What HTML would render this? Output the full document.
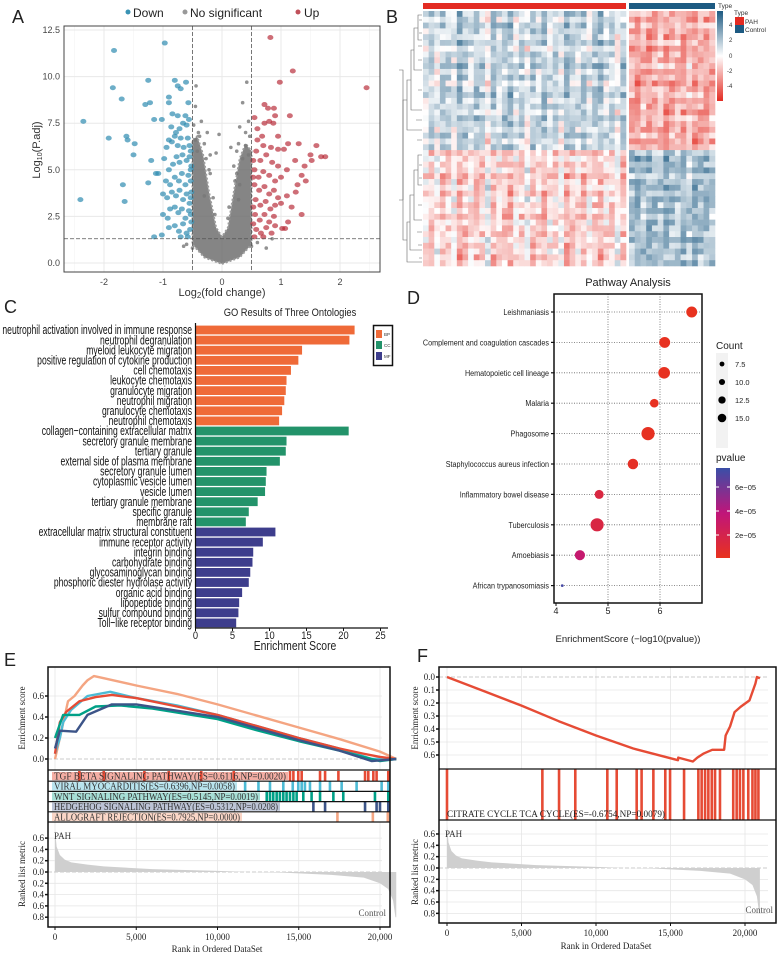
<!DOCTYPE html>
<html><head><meta charset="utf-8">
<style>
html,body{margin:0;padding:0;background:#fff;}
svg{display:block;font-family:"Liberation Sans",sans-serif;}
.ser{font-family:"Liberation Serif",serif;}
</style></head>
<body>
<svg id="fig" width="777" height="954" viewBox="0 0 777 954">
<rect x="0" y="0" width="777" height="954" fill="#fff"/>
<text x="12" y="23" font-size="18" fill="#222">A</text>
<text x="386" y="23" font-size="18" fill="#222">B</text>
<text x="4" y="313" font-size="18" fill="#222">C</text>
<text x="407" y="304" font-size="18" fill="#222">D</text>
<text x="4" y="666" font-size="18" fill="#222">E</text>
<text x="417" y="662" font-size="18" fill="#222">F</text>

<g id="pa">
<rect x="64" y="26" width="316" height="246" fill="#fff"/>
<g id="pa-grid"></g>
<g id="pa-marks"></g>
<rect x="64" y="26" width="316" height="246" fill="none" stroke="#444" stroke-width="1"/>
<g id="pa-axes" font-size="9" fill="#444"></g>
<text x="222" y="296" font-size="11" text-anchor="middle" fill="#333">Log<tspan font-size="8" dy="2">2</tspan><tspan dy="-2">(fold change)</tspan></text>
<text transform="translate(40,150) rotate(-90)" font-size="11" text-anchor="middle" fill="#333">Log<tspan font-size="7" dy="2">10</tspan><tspan dy="-2">(P.adj)</tspan></text>
<g font-size="12" fill="#222">
<circle cx="128" cy="12" r="2.5" fill="#3a93b4"/>
<text x="133" y="17">Down</text>
<circle cx="185" cy="12" r="2.5" fill="#999"/>
<text x="190" y="17">No significant</text>
<circle cx="298" cy="12" r="2.5" fill="#c0505a"/>
<text x="304" y="17">Up</text>
</g>
</g>

<g id="pb">
<rect x="423" y="3" width="203" height="6" fill="#e32b22"/>
<rect x="629" y="3" width="86" height="6" fill="#1d5a82"/>
<g id="pb-cells"></g>
<g stroke="#666" stroke-width="0.6" fill="none">
<path d="M422,15 H418 V40 H422 M418,28 H414 V70 H422 M414,50 H411 V110 H422 M411,80 H407 V130 H422 M407,100 H403 V200" />
<path d="M422,155 H418 V185 H422 M418,170 H414 V220 H422 M414,195 H410 V250 H422 M410,222 H407 V262 H422 M407,240 H403 V200" />
<path d="M422,20 H419 M422,33 H419 M422,46 H418 M422,60 H418 M422,90 H418 M422,120 H416 M422,140 H417 M422,165 H419 M422,178 H419 M422,205 H418 M422,232 H417 M422,245 H418 M422,258 H419"/>
<path d="M403,200 V70 H399 M403,200 H399"/>
</g>
<defs><linearGradient id="hmgrad" x1="0" y1="0" x2="0" y2="1"><stop offset="0" stop-color="#1d5a82"/><stop offset="0.5" stop-color="#ffffff"/><stop offset="1" stop-color="#e32b22"/></linearGradient>
<linearGradient id="pgrad" x1="0" y1="0" x2="0" y2="1"><stop offset="0" stop-color="#3a4fa8"/><stop offset="0.5" stop-color="#c0157a"/><stop offset="1" stop-color="#e8321e"/></linearGradient></defs>
<rect x="717" y="11" width="6" height="90" fill="url(#hmgrad)"/>
<g font-size="6" fill="#333">
<text x="729" y="27">4</text><text x="729" y="42">2</text><text x="729" y="58">0</text><text x="727" y="73">-2</text><text x="727" y="88">-4</text>
</g>
<text x="718" y="8" font-size="6.5" fill="#333">Type</text>
<text x="734" y="15" font-size="6.5" fill="#333">Type</text>
<rect x="735" y="17" width="9" height="8" fill="#e32b22"/>
<rect x="735" y="25" width="9" height="8" fill="#1d5a82"/>
<text x="745" y="24" font-size="6.5" fill="#333">PAH</text>
<text x="745" y="32" font-size="6.5" fill="#333">Control</text>
</g>

<g id="pc">
<text x="290" y="316" font-size="11" text-anchor="middle" fill="#222" transform="translate(290,0) scale(0.85,1) translate(-290,0)">GO Results of Three Ontologies</text>
<g id="pc-bars"></g>
<g id="pc-labels" transform="translate(192,0) scale(0.66,1)" font-size="13" fill="#111" text-anchor="end"></g>
<line x1="195.5" y1="323" x2="195.5" y2="628" stroke="#111" stroke-width="1.2"/>
<line x1="195" y1="628" x2="388" y2="628" stroke="#111" stroke-width="1.2"/>
<g id="pc-ticks" font-size="11" fill="#222" text-anchor="middle"></g>
<text transform="translate(295,650) scale(0.8,1)" font-size="13" text-anchor="middle" fill="#222">Enrichment Score</text>
<rect x="373.5" y="325.5" width="19" height="40" fill="#fff" stroke="#111" stroke-width="1.5"/>
<rect x="376" y="330" width="6" height="8" fill="#ef6a38"/>
<rect x="376" y="341" width="6" height="8" fill="#23936a"/>
<rect x="376" y="352" width="6" height="8" fill="#3d3d8c"/>
<g font-size="4.5" fill="#333">
<text x="384" y="336">BP</text><text x="384" y="347">CC</text><text x="384" y="358">MF</text></g>
</g>

<g id="pd">
<text x="628" y="286" font-size="11" text-anchor="middle" fill="#222">Pathway Analysis</text>
<g id="pd-grid"></g>
<g id="pd-dots"></g>
<rect x="554" y="294" width="148" height="309" fill="none" stroke="#111" stroke-width="1.5"/>
<g id="pd-labels" font-size="8" fill="#222" text-anchor="end"></g>
<g id="pd-ticks" font-size="9" fill="#222" text-anchor="middle"></g>
<text x="628" y="642" font-size="9.5" text-anchor="middle" fill="#222">EnrichmentScore (−log10(pvalue))</text>
<text x="716" y="349" font-size="10" fill="#222">Count</text>
<rect x="716" y="353" width="12" height="95" fill="#f2f2f2"/>
<g id="pd-sizeleg" font-size="7.5" fill="#222"></g>
<text x="716" y="461" font-size="10" fill="#222">pvalue</text>
<rect x="716" y="468" width="14" height="90" fill="url(#pgrad)"/>
<g font-size="7.5" fill="#222">
<text x="735" y="490">6e−05</text><text x="735" y="514">4e−05</text><text x="735" y="538">2e−05</text></g>
<g stroke="#fff" stroke-width="1">
<line x1="716" y1="487" x2="719" y2="487"/><line x1="727" y1="487" x2="730" y2="487"/>
<line x1="716" y1="511" x2="719" y2="511"/><line x1="727" y1="511" x2="730" y2="511"/>
<line x1="716" y1="535" x2="719" y2="535"/><line x1="727" y1="535" x2="730" y2="535"/></g>
</g>

<g id="pe" class="ser">
<g id="pe-grid"></g>
<g id="pe-lines"></g>
<g id="pe-hits"></g>
<g id="pe-rank"></g>
<rect x="48" y="667" width="342" height="260" fill="none" stroke="#111" stroke-width="1.5"/>
<line x1="48" y1="770" x2="390" y2="770" stroke="#111" stroke-width="1.2"/>
<line x1="48" y1="822" x2="390" y2="822" stroke="#111" stroke-width="1.2"/>
<g id="pe-axes" font-size="9" fill="#222"></g>
<text transform="translate(25,718) rotate(-90)" font-size="9" text-anchor="middle" fill="#222">Enrichment score</text>
<text transform="translate(25,874) rotate(-90)" font-size="9" text-anchor="middle" fill="#222">Ranked list metric</text>
<text x="54" y="839" font-size="9" fill="#333">PAH</text>
<text x="386" y="916" font-size="9" fill="#555" text-anchor="end">Control</text>
<text x="217" y="952" font-size="9" text-anchor="middle" fill="#222">Rank in Ordered DataSet</text>
</g>

<g id="pf" class="ser">
<g id="pf-grid"></g>
<g id="pf-hits"></g>
<g id="pf-lines"></g>
<g id="pf-rank"></g>
<rect x="439" y="667" width="337" height="256" fill="none" stroke="#111" stroke-width="1.5"/>
<line x1="439" y1="769" x2="776" y2="769" stroke="#111" stroke-width="1.2"/>
<line x1="439" y1="820" x2="776" y2="820" stroke="#111" stroke-width="1.2"/>
<text x="447" y="817" font-size="9.5" fill="#222" textLength="218" lengthAdjust="spacingAndGlyphs">CITRATE CYCLE TCA CYCLE(ES=-0.6754,NP=0.0079)</text>
<g id="pf-axes" font-size="9" fill="#222"></g>
<text transform="translate(418,718) rotate(-90)" font-size="9" text-anchor="middle" fill="#222">Enrichment score</text>
<text transform="translate(418,872) rotate(-90)" font-size="9" text-anchor="middle" fill="#222">Ranked list metric</text>
<text x="445" y="837" font-size="9" fill="#333">PAH</text>
<text x="773" y="913" font-size="9" fill="#555" text-anchor="end">Control</text>
<text x="606" y="949" font-size="9" text-anchor="middle" fill="#222">Rank in Ordered DataSet</text>
</g>
</svg>

<script>
const downPoints=[[-2.4,3.4],[-2.35,7.6],[-1.92,6.7],[-1.85,9.4],[-1.83,11.4],[-1.7,8.8],[-1.62,6.8],[-1.6,6.6],[-1.48,6.4],[-1.5,5.8],[-1.68,4.2],[-1.65,3.3],[-1.25,9.8],[-1.3,8.5],[-1.22,8.6],[-1.15,7.7],[-1.02,7.7],[-1.2,5.5],[-1.25,4.3],[-1.12,4.8],[-1.08,4.8],[-0.97,11.8],[-0.9,6.6],[-0.92,2.4],[-1.02,1.5],[-0.8,9.8],[-0.75,9.5],[-0.7,9.35],[-0.61,9.7],[-0.57,8.6],[-0.9,8.9],[-0.9,8.6],[-0.84,8.0],[-0.75,7.9],[-0.66,7.5],[-0.62,7.9],[-0.56,7.7],[-0.86,7.3],[-0.78,7.0],[-0.72,7.2],[-0.6,7.4],[-0.94,6.2],[-0.85,6.5],[-0.8,6.8],[-0.75,6.3],[-0.7,6.7],[-0.65,6.2],[-0.58,6.7],[-0.55,6.3],[-0.98,5.6],[-0.9,5.0],[-0.83,5.3],[-0.77,5.7],[-0.72,5.4],[-0.67,5.8],[-0.6,5.5],[-0.55,5.7],[-0.52,5.2],[-0.95,4.4],[-0.88,4.2],[-0.8,4.6],[-0.73,4.4],[-0.68,4.8],[-0.62,4.2],[-0.57,4.7],[-0.53,4.4],[-1.0,3.7],[-0.93,3.5],[-0.85,3.8],[-0.78,3.6],[-0.72,3.9],[-0.66,3.4],[-0.6,3.7],[-0.55,3.2],[-0.52,3.8],[-1.0,2.6],[-0.88,2.9],[-0.8,3.0],[-0.74,2.7],[-0.68,2.9],[-0.62,2.4],[-0.56,2.8],[-0.52,2.2],[-0.9,1.9],[-0.8,2.0],[-0.73,1.7],[-0.66,2.1],[-0.6,1.6],[-0.54,1.8],[-0.7,1.4],[-0.58,1.4],[-1.15,1.4],[-0.53,6.0],[-0.53,5.0],[-0.53,3.5],[-0.53,2.6]];
const upPoints=[[0.82,12.1],[1.2,10.3],[0.98,9.7],[2.45,9.4],[0.55,7.8],[0.72,8.5],[0.78,8.3],[0.88,8.3],[0.9,7.9],[1.15,7.9],[0.87,7.5],[0.72,7.5],[0.6,6.6],[0.7,6.3],[0.68,6.8],[0.83,6.2],[0.95,6.1],[1.05,6.1],[1.12,6.4],[1.3,6.4],[1.6,6.3],[1.68,5.7],[1.75,5.7],[1.5,5.8],[1.52,5.5],[1.4,5.2],[1.24,5.5],[1.1,5.0],[1.0,4.6],[1.35,4.7],[1.28,4.2],[1.42,4.4],[1.25,3.8],[1.18,3.0],[1.1,3.6],[1.0,3.2],[1.35,2.6],[1.12,2.2],[1.02,1.85],[1.07,1.85],[0.9,2.0],[0.58,6.0],[0.65,5.5],[0.75,5.8],[0.85,5.4],[0.95,5.2],[0.55,5.0],[0.62,4.6],[0.7,4.9],[0.8,4.7],[0.9,4.4],[0.55,4.2],[0.63,3.9],[0.72,4.1],[0.8,3.7],[0.88,3.9],[0.95,3.5],[0.57,3.4],[0.65,3.1],[0.74,3.3],[0.82,2.9],[0.9,3.1],[0.56,2.6],[0.64,2.3],[0.72,2.6],[0.8,2.2],[0.88,2.5],[0.58,1.8],[0.66,1.6],[0.75,1.9],[0.84,1.6],[0.55,1.4],[0.7,1.4],[0.6,7.2],[0.8,7.6],[0.95,6.8],[0.53,5.5],[0.53,4.6],[0.53,3.0],[0.53,2.1]];
const nsPoints=[[-0.65,0.9],[-0.44,9.5],[-0.45,8.4],[0.42,9.7],[0.35,8.6],[0.45,7.6],[0.3,7.3],[-0.3,6.4],[-0.2,5.8],[0.28,6.4],[0.2,5.2],[0.75,0.8],[-0.2,4.8],[0.3,4.2],[-0.35,7.6],[-0.25,7.0],[0.4,7.0],[0.25,6.0],[-0.15,3.5],[0.12,3.0],[0.6,1.1],[-0.6,1.0],[0.85,1.3],[-0.4,7.0],[-0.48,7.4],[-0.38,6.8],[-0.27,5.6],[-0.22,5.0],[-0.45,6.6],[-0.42,6.0],[0.4,6.3],[0.47,6.8],[0.35,5.6],[0.25,4.8],[0.22,4.4],[0.45,5.8],[-0.12,2.6],[0.1,2.4],[-0.3,3.6],[0.28,3.4],[-0.5,0.8],[0.5,0.9],[-0.1,5.9],[-0.05,6.9],[0.15,6.2]];
const nsEnvelope=[[0,-0.05],[0.3,0.3],[0.5,1.0],[0.5,6.0],[0.4,6.4],[0.3,5.6],[0.2,3.8],[0.1,1.9],[0,1.4],[-0.1,1.9],[-0.22,3.8],[-0.32,5.8],[-0.42,6.8],[-0.5,6.6],[-0.5,1.0],[-0.3,0.3]];
const volcanoXTicks=[-2,-1,0,1,2];
const volcanoYTicks=[0,2.5,5,7.5,10,12.5];
const volcanoYLabels=["0.0","2.5","5.0","7.5","10.0","12.5"];
const fcCut=0.5, padjCut=1.3;

const rowClusterSplit=24;
const blockMeans=[[0.9,-2.2],[-0.9,2.0]];
const rowOffsets=[0.3,-0.4,0.6,0.1,-0.2,0.5,-0.6,0.2,0.0,0.7,-0.3,0.4,-0.5,0.2,0.6,-0.1,0.3,-0.4,0.5,0.1,-0.2,0.4,-0.5,0.2,
 -0.3,0.5,-0.2,0.4,-0.6,0.1,0.3,-0.4,0.6,-0.1,0.2,-0.5,0.4,0.0,-0.3,0.5,-0.2,0.3,-0.4,0.1];
const colOffsetsPAH=[-0.4,0.3,-0.8,0.5,0.1,-0.6,1.2,0.4,-0.3,0.6,0.2,-1.3,0.8,-0.2,0.4,1.0,-0.5,0.3,-0.9,0.6,-0.1,0.9,-0.4,0.2,-0.7,1.1,0.3,-0.2,0.7,-0.6,0.5,1.0,-0.3,0.2,-1.0,0.6];
const colOffsetsCtrl=[0.4,-0.6,0.8,-0.3,0.2,1.1,-0.5,0.3,0.9,-0.2,1.2,-0.4,0.5,-0.1,0.7];
const cellTexture=[0.5,-0.7,0.2,0.9,-0.3,-0.8,0.6,0.1,-0.5,0.8,-0.2,0.4,-0.9,0.3,0.7,-0.4,0.0,-0.6,1.0,-0.1,0.5,-0.8,0.2,0.6,-0.3];

const goTerms=["neutrophil activation involved in immune response","neutrophil degranulation","myeloid leukocyte migration","positive regulation of cytokine production","cell chemotaxis","leukocyte chemotaxis","granulocyte migration","neutrophil migration","granulocyte chemotaxis","neutrophil chemotaxis","collagen−containing extracellular matrix","secretory granule membrane","tertiary granule","external side of plasma membrane","secretory granule lumen","cytoplasmic vesicle lumen","vesicle lumen","tertiary granule membrane","specific granule","membrane raft","extracellular matrix structural constituent","immune receptor activity","integrin binding","carbohydrate binding","glycosaminoglycan binding","phosphoric diester hydrolase activity","organic acid binding","lipopeptide binding","sulfur compound binding","Toll−like receptor binding"];
const goScores=[21.5,20.8,14.4,13.9,12.9,12.3,12.2,12.0,11.7,11.3,20.7,12.3,12.2,11.4,9.6,9.5,9.4,8.4,7.2,6.8,10.8,9.1,7.8,7.7,7.4,7.2,6.3,5.9,5.8,5.5];
const goOntology=["BP","BP","BP","BP","BP","BP","BP","BP","BP","BP","CC","CC","CC","CC","CC","CC","CC","CC","CC","CC","MF","MF","MF","MF","MF","MF","MF","MF","MF","MF"];
const goXTicks=[0,5,10,15,20,25];

const pathways=["Leishmaniasis","Complement and coagulation cascades","Hematopoietic cell lineage","Malaria","Phagosome","Staphylococcus aureus infection","Inflammatory bowel disease","Tuberculosis","Amoebiasis","African trypanosomiasis"];
const pathwayScores=[6.61,6.09,6.08,5.89,5.77,5.48,4.83,4.79,4.46,4.12];
const pathwayCounts=[12,12,13,9,15,11.5,9.5,15,11,5];
const pathwayPvalues=[2.5e-7,8e-7,8.5e-7,1.3e-6,1.7e-6,3.3e-6,1.5e-5,1.6e-5,3.5e-5,7.6e-5];
const pathwayXTicks=[4,5,6];
const countLegend=[7.5,10,12.5,15];

const esAllograft=[[0,0],[300,0.2],[800,0.55],[1200,0.6],[1700,0.7],[2000,0.75],[2400,0.79],[3000,0.77],[5000,0.7],[7500,0.62],[10000,0.52],[12500,0.41],[15000,0.3],[17500,0.19],[20000,0.07],[21000,0]];
const esTGF=[[0,0.05],[300,0.35],[700,0.45],[1500,0.55],[2500,0.59],[3500,0.61],[5000,0.58],[7500,0.5],[10000,0.42],[12500,0.31],[15000,0.2],[17500,0.1],[19000,0.05],[20000,0.02],[21000,0]];
const esViral=[[0,0.05],[300,0.2],[500,0.35],[1000,0.47],[2000,0.6],[3400,0.64],[5000,0.58],[7500,0.51],[10000,0.42],[12500,0.31],[15000,0.2],[17500,0.1],[19500,0.0],[21000,0]];
const esWNT=[[0,0.2],[500,0.42],[1500,0.42],[2500,0.5],[4000,0.51],[6000,0.48],[8000,0.43],[10000,0.38],[12500,0.27],[15000,0.17],[17500,0.08],[20000,-0.02],[21000,0]];
const esHedgehog=[[0,0.1],[300,0.27],[1300,0.26],[2000,0.42],[3500,0.52],[5000,0.52],[7500,0.46],[10000,0.4],[12500,0.29],[15000,0.18],[17500,0.08],[19500,-0.02],[21000,0]];
const eSetNames=["TGF_BETA_SIGNALING_PATHWAY(ES=0.6116,NP=0.0020)","VIRAL_MYOCARDITIS(ES=0.6396,NP=0.0058)","WNT_SIGNALING_PATHWAY(ES=0.5145,NP=0.0019)","HEDGEHOG_SIGNALING_PATHWAY(ES=0.5312,NP=0.0208)","ALLOGRAFT_REJECTION(ES=0.7925,NP=0.0000)"];
const hitsTGF=[1500,3000,5500,7000,9000,11000,14460,14670,14970,15180,16310,16620,17440,19080,19280,19590,19790,20510];
const hitsViral=[11700,12520,13230,14050,14630,14970,15180,15380,15690,16310,16920,17640,18560,20100,20510];
const hitsWNT=[13030,13230,13430,13640,13840,14050,14250,14460,14670,14870,15280,15790,16310,17130,17740,19690,20510];
const hitsHedgehog=[15900,16620,19080,19790,20000,20510];
const hitsAllograft=[17380,19560,20480];
const rankedMetric=[[0,0.75],[100,0.45],[300,0.3],[600,0.22],[1000,0.17],[2000,0.13],[3000,0.1],[6000,0.05],[10000,0.02],[12000,0.0],[14000,-0.01],[17000,-0.05],[19000,-0.1],[20000,-0.2],[20500,-0.3],[20800,-0.5],[20950,-0.8],[21000,-0.8]];
const rankXTicks=[0,5000,10000,15000,20000];
const rankXLabels=["0","5,000","10,000","15,000","20,000"];
const esETicks=[0,0.2,0.4,0.6];
const metricTicks=[0.6,0.4,0.2,0,-0.2,-0.4,-0.6,-0.8];

const esCitrate=[[0,0],[2500,-0.11],[5000,-0.22],[7500,-0.34],[10000,-0.45],[12500,-0.55],[14500,-0.61],[15500,-0.64],[15520,-0.62],[16500,-0.65],[16800,-0.62],[17200,-0.59],[17800,-0.56],[18600,-0.56],[18700,-0.45],[19000,-0.38],[19300,-0.27],[19700,-0.23],[20300,-0.18],[20700,-0.05],[20800,0.0],[21000,-0.01]];
const hitsCitrate=[0,6400,7520,8610,10760,11390,12730,13060,13850,14650,14970,15910,16870,17090,17320,17540,17770,17990,18320,19210,19440,19660,19890,20220,20500,20700,20900];
const esFTicks=[0,-0.1,-0.2,-0.3,-0.4,-0.5,-0.6];

const SVGNS=document.getElementById('fig').namespaceURI;
function mk(parent,tag,attrs){const e=document.createElementNS(SVGNS,tag);for(const k in attrs)e.setAttribute(k,attrs[k]);parent.appendChild(e);return e;}
const $=id=>document.getElementById(id);

const ax=x=>222+x*59, ay=y=>263-y*18.64;
(function(){
 const g=$('pa-grid'),m=$('pa-marks'),a=$('pa-axes');
 [-2.5,-1.5,-0.5,0.5,1.5,2.5].forEach(v=>{const l=mk(g,'line',{x1:ax(v),x2:ax(v),y1:26,y2:272,stroke:'#f3f3f3','stroke-width':0.6});
  
  });
 volcanoXTicks.forEach(v=>{const l=mk(g,'line',{x1:ax(v),x2:ax(v),y1:26,y2:272,stroke:'#e8e8e8','stroke-width':1});
  
  
  const t=mk(a,'text',{x:ax(v),y:285,'text-anchor':'middle'});t.textContent=v;
  
  });
 volcanoYTicks.forEach((v,i)=>{const l=mk(g,'line',{x1:64,x2:380,y1:ay(v),y2:ay(v),stroke:'#e8e8e8','stroke-width':1});
  
  
  const t=mk(a,'text',{x:60,y:ay(v)+3,'text-anchor':'end'});t.textContent=volcanoYLabels[i];
  
  });
 const poly=mk(m,'polygon',{points:nsEnvelope.map(p=>ax(p[0])+','+ay(p[1])).join(' '),fill:'#707070',opacity:0.85,stroke:'#8a8a8a','stroke-width':2,'stroke-dasharray':'2,2'});
 
 
 nsPoints.forEach(p=>{const c=mk(m,'circle',{cx:ax(p[0]),cy:ay(p[1]),r:1.8,fill:'#777',opacity:0.8});
  
  });
 downPoints.forEach(p=>{const c=mk(m,'ellipse',{cx:ax(p[0]),cy:ay(p[1]),rx:3,ry:2.5,fill:'#2f8bb0',opacity:0.7});
  
  });
 upPoints.forEach(p=>{const c=mk(m,'ellipse',{cx:ax(p[0]),cy:ay(p[1]),rx:3,ry:2.5,fill:'#b3202e',opacity:0.65});
  
  });
 [-fcCut,fcCut].forEach(v=>{const l=mk(m,'line',{x1:ax(v),x2:ax(v),y1:26,y2:272,stroke:'#555','stroke-dasharray':'4,2','stroke-width':0.8});
  
  });
 const h=mk(m,'line',{x1:64,x2:380,y1:ay(padjCut),y2:ay(padjCut),stroke:'#555','stroke-dasharray':'4,2','stroke-width':0.8});
 
 
})();

function hmColor(v){v=Math.max(-5,Math.min(5,v));let t=Math.abs(v)/5;
 const c=v>=0?[29,90,130]:[227,43,34];
 const r=Math.round(255+(c[0]-255)*t),g=Math.round(255+(c[1]-255)*t),b=Math.round(255+(c[2]-255)*t);return `rgb(${r},${g},${b})`;}
(function(){
 const g=$('pb-cells');const nR=rowOffsets.length;const top=11,H=255,rh=H/nR;
 const groups=[{x0:423,w:203,off:colOffsetsPAH,gi:0},{x0:629,w:86,off:colOffsetsCtrl,gi:1}];
 groups.forEach(G=>{const cw=G.w/G.off.length;
  for(let i=0;i<nR;i++){const rc=i<rowClusterSplit?0:1;
   for(let j=0;j<G.off.length;j++){
    const tex=cellTexture[(i*7+j*3)%cellTexture.length];
    const v=blockMeans[rc][G.gi]+G.off[j]*(rc===0?1:-1)*(G.gi===0?1:0.6)+rowOffsets[i]+tex*1.2;
    const r=mk(g,'rect',{x:(G.x0+j*cw).toFixed(2),y:(top+i*rh).toFixed(2),width:(cw+0.3).toFixed(2),height:(rh+0.3).toFixed(2),fill:hmColor(v)});
    
    }}});
})();

const ontColor={BP:'#ef6a38',CC:'#23936a',MF:'#3d3d8c'};
const cx=v=>195.5+v*7.4, cy=i=>330+i*10.1;
(function(){
 const b=$('pc-bars'),l=$('pc-labels'),t=$('pc-ticks');
 goTerms.forEach((name,i)=>{
  const r=mk(b,'rect',{x:196,y:cy(i)-4.4,width:cx(goScores[i])-196,height:8.8,fill:ontColor[goOntology[i]]});
  
  
  const tx=mk(l,'text',{x:0,y:cy(i)+4.2});tx.textContent=name;
  
  });
 goXTicks.forEach(v=>{const tk=mk(t,'line',{x1:cx(v),x2:cx(v),y1:628,y2:631,stroke:'#111'});
  
  
  const tx=mk(t,'text',{x:cx(v),y:639,transform:`translate(${cx(v)},0) scale(0.85,1) translate(${-cx(v)},0)`});tx.textContent=v;
  
  });
})();

const dx=v=>556+(v-4)*52, dy=i=>312+i*30.4;
const dr=c=>0.9+c*0.38;
function pColor(p){const t=Math.max(0,Math.min(1,p/8e-5));
 const s=[[232,50,30],[192,21,122],[58,79,168]];let a,b,u;
 if(t<0.5){a=s[0];b=s[1];u=t/0.5;}else{a=s[1];b=s[2];u=(t-0.5)/0.5;}
 return `rgb(${Math.round(a[0]+(b[0]-a[0])*u)},${Math.round(a[1]+(b[1]-a[1])*u)},${Math.round(a[2]+(b[2]-a[2])*u)})`;}
(function(){
 const g=$('pd-grid'),d=$('pd-dots'),l=$('pd-labels'),t=$('pd-ticks'),s=$('pd-sizeleg');
 [5,6].forEach(v=>{const ln=mk(g,'line',{x1:dx(v),x2:dx(v),y1:294,y2:603,stroke:'#666','stroke-dasharray':'1,1.5','stroke-width':0.8});
  
  });
 pathways.forEach((name,i)=>{
  const ln=mk(g,'line',{x1:554,x2:702,y1:dy(i),y2:dy(i),stroke:'#666','stroke-dasharray':'1,1.5','stroke-width':0.8});
  
  
  const tk=mk(g,'line',{x1:551,x2:554,y1:dy(i),y2:dy(i),stroke:'#111','stroke-width':1.2});
  
  
  const c=mk(d,'circle',{cx:dx(pathwayScores[i]),cy:dy(i),r:dr(pathwayCounts[i])*(pathwayCounts[i]<6?0.5:1),fill:pColor(pathwayPvalues[i])});
  
  
  const tx=mk(l,'text',{x:549,y:dy(i)+3,transform:`translate(549,0) scale(0.9,1) translate(-549,0)`});tx.textContent=name;
  
  });
 pathwayXTicks.forEach(v=>{const tk=mk(t,'line',{x1:dx(v),x2:dx(v),y1:603,y2:606,stroke:'#111'});
  
  
  const tx=mk(t,'text',{x:dx(v),y:614});tx.textContent=v;
  
  });
 countLegend.forEach((c,i)=>{const yy=364+i*18;
  const ci=mk(s,'circle',{cx:722,cy:yy,r:dr(c)*0.65,fill:'#000'});
  
  
  const tx=mk(s,'text',{x:735,y:yy+3});tx.textContent=c.toFixed(1);
  
  });
})();

function gsea(cfg){
 const {grid,lines,rank,axes,rx,esY,mY,x0,x1,esTop,esBot,mTop,mBot}=cfg;
 rankXTicks.forEach((v,i)=>{
  [[esTop,esBot],[mTop,mBot]].forEach(([a,b])=>{const l=mk(grid,'line',{x1:rx(v),x2:rx(v),y1:a,y2:b,stroke:'#e6e6e6','stroke-width':0.8});
   
   });
  const tk=mk(axes,'line',{x1:rx(v),x2:rx(v),y1:mBot,y2:mBot+3,stroke:'#111'});
  
  
  const tx=mk(axes,'text',{x:rx(v),y:mBot+13,'text-anchor':'middle'});tx.textContent=rankXLabels[i];
  
  });
 cfg.esTicks.forEach(v=>{
  const l=mk(grid,'line',{x1:x0,x2:x1-8,y1:esY(v),y2:esY(v),stroke:v===0?'#bbb':'#e6e6e6','stroke-width':0.8,'stroke-dasharray':v===0?'4,2':'none'});
  
  
  const tk=mk(axes,'line',{x1:x0-3,x2:x0,y1:esY(v),y2:esY(v),stroke:'#111','stroke-width':1.5});
  
  
  const tx=mk(axes,'text',{x:x0-4,y:esY(v)+3,'text-anchor':'end'});tx.textContent=Math.abs(v).toFixed(1);
  
  });
 metricTicks.forEach(v=>{
  const l=mk(grid,'line',{x1:x0,x2:x1-8,y1:mY(v),y2:mY(v),stroke:v===0?'#bbb':'#e6e6e6','stroke-width':0.8,'stroke-dasharray':v===0?'4,2':'none'});
  
  
  const tk=mk(axes,'line',{x1:x0-3,x2:x0,y1:mY(v),y2:mY(v),stroke:'#111','stroke-width':1.5});
  
  
  const tx=mk(axes,'text',{x:x0-4,y:mY(v)+3,'text-anchor':'end'});tx.textContent=Math.abs(v).toFixed(1);
  
  });
 const pts=rankedMetric.map(p=>rx(p[0])+','+mY(p[1]));
 const area=mk(rank,'polygon',{points:[rx(0)+','+mY(0)].concat(pts,[rx(21000)+','+mY(0)]).join(' '),fill:'#cfcfcf'});
 
 
}

const erx=r=>55+r*0.01625, eEsY=v=>759-v*105, eMY=v=>872-v*56.5;
gsea({grid:$('pe-grid'),lines:$('pe-lines'),rank:$('pe-rank'),axes:$('pe-axes'),rx:erx,esY:eEsY,mY:eMY,x0:48,x1:390,esTop:667,esBot:770,mTop:822,mBot:927,esTicks:esETicks});
(function(){
 const L=$('pe-lines'),H=$('pe-hits');
 const series=[{d:esAllograft,c:'#f4a582',n:'allograft-curve'},{d:esViral,c:'#4dbbd5',n:'viral-curve'},{d:esTGF,c:'#e64b35',n:'tgf-curve'},{d:esWNT,c:'#00a087',n:'wnt-curve'},{d:esHedgehog,c:'#3c5488',n:'hedgehog-curve'}];
 series.forEach(s=>{const p=mk(L,'polyline',{points:s.d.map(q=>erx(q[0])+','+eEsY(q[1])).join(' '),fill:'none',stroke:s.c,'stroke-width':2.4,'stroke-linejoin':'round'});
  
  });
 const hitSets=[hitsTGF,hitsViral,hitsWNT,hitsHedgehog,hitsAllograft];
 const cols=['#e64b35','#4dbbd5','#00a087','#3c5488','#f4a582'];
 const bg=['rgba(230,75,53,0.45)','rgba(77,187,213,0.4)','rgba(0,160,135,0.35)','rgba(60,84,136,0.35)','rgba(244,165,130,0.45)'];
 const lens=[236,185,208,228,190];
 const rowTop=771,rowH=10.2;
 hitSets.forEach((hs,i)=>{const y0=rowTop+i*rowH;
  hs.forEach(r=>{const h=mk(H,'rect',{x:erx(r)-1.3,y:y0,width:2.6,height:rowH,fill:cols[i]});
   
   });
  const b=mk(H,'rect',{x:52,y:y0+1,width:lens[i],height:rowH-2,fill:bg[i]});
  
  
  const t=mk(H,'text',{x:54,y:y0+8.5,'font-size':10,fill:'#333',textLength:lens[i]-4,lengthAdjust:'spacingAndGlyphs'});t.textContent=eSetNames[i].replace(/_/g,' ');
  
  
  if(i>0){const ln=mk(H,'line',{x1:48,x2:390,y1:y0,y2:y0,stroke:'#111','stroke-width':1.2});
   
   }});
})();

const frx=r=>447+r*0.0149, fEsY=v=>677-v*130, fMY=v=>868-v*56.7;
gsea({grid:$('pf-grid'),lines:$('pf-lines'),rank:$('pf-rank'),axes:$('pf-axes'),rx:frx,esY:fEsY,mY:fMY,x0:439,x1:776,esTop:667,esBot:769,mTop:820,mBot:923,esTicks:esFTicks});
(function(){
 const p=mk($('pf-lines'),'polyline',{points:esCitrate.map(q=>frx(q[0])+','+fEsY(q[1])).join(' '),fill:'none',stroke:'#e64b35','stroke-width':2.4,'stroke-linejoin':'round'});
 
 
 hitsCitrate.forEach(r=>{const h=mk($('pf-hits'),'rect',{x:frx(r)-1.3,y:769,width:2.6,height:51,fill:'#e64b35'});
  
  });
})();
</script>
</body></html>
